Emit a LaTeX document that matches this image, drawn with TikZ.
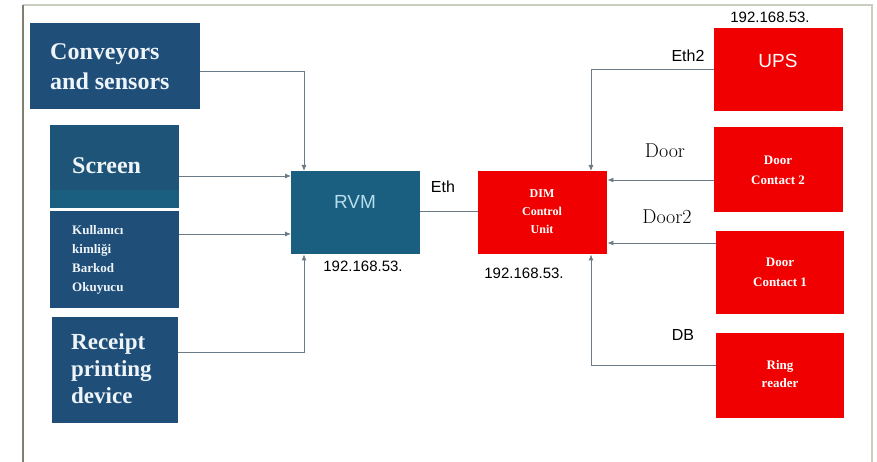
\documentclass[tikz,border=0pt]{standalone}
\usepackage{fontspec}
\setsansfont{Liberation Sans}
\newfontfamily\tnrb{Liberation Serif Bold}
\usetikzlibrary{arrows.meta}
\definecolor{navy}{HTML}{1F4E79}
\definecolor{scr}{HTML}{1D5478}
\definecolor{rvmc}{HTML}{1A5E80}
\definecolor{redc}{HTML}{F00000}
\definecolor{linec}{HTML}{6A7A86}
\definecolor{framec}{HTML}{C8CFC0}
\definecolor{framel}{HTML}{808070}
\definecolor{rvmtext}{HTML}{B8DDEB}
\definecolor{btext}{HTML}{EEF4F8}
\tikzset{
  box/.style={draw=none, inner sep=0pt},
  bluebox/.style={box, fill=navy},
  redbox/.style={box, fill=redc},
  wtext/.style={text=white, align=center},
  conn/.style={draw=linec, line width=0.9pt, -{Latex[length=6pt,width=5pt]}},
  plain/.style={draw=linec, line width=0.9pt},
  lbl/.style={text=black, inner sep=0pt}
}
\begin{document}
\begin{tikzpicture}[x=1pt,y=-1pt]
\useasboundingbox (0,0) rectangle (877,462);
\fill[white] (0,0) rectangle (877,462);
% frame
\draw[framec, line width=1.2pt] (23,5) -- (872,5) -- (872,462);
\draw[framel, line width=1.6pt] (23,5) -- (23,462);

% left boxes
\node[bluebox, minimum width=170pt, minimum height=86pt, anchor=north west] (conv) at (30,23) {};
\node[anchor=west, text=btext, align=left, inner sep=0pt, font=\tnrb\fontsize{24}{30}\selectfont] at (50,67) {Conveyors\\and sensors};

\node[box, fill=scr, minimum width=129pt, minimum height=83pt, anchor=north west] (scr) at (50,125) {};
\fill[rvmc] (50,190) rectangle (179,208);
\node[anchor=west, text=btext, inner sep=0pt, font=\tnrb\fontsize{24}{28}\selectfont] at (72,166) {Screen};

\node[bluebox, minimum width=129pt, minimum height=97pt, anchor=north west] (kul) at (50,211) {};
\node[anchor=west, text=btext, align=left, inner sep=0pt, font=\tnrb\fontsize{13}{19}\selectfont] at (72,260) {Kullanıcı\\kimliği\\Barkod\\Okuyucu};

\node[bluebox, minimum width=126pt, minimum height=106pt, anchor=north west] (rec) at (52,317) {};
\node[anchor=west, text=btext, align=left, inner sep=0pt, font=\tnrb\fontsize{23}{27}\selectfont] at (71,369) {Receipt\\printing\\device};

% RVM
\node[box, fill=rvmc, minimum width=129pt, minimum height=83pt, anchor=north west] (rvm) at (291,171) {};
\node[text=rvmtext, font=\sffamily\fontsize{19}{22}\selectfont] at (355,202) {RVM};

% DIM
\node[redbox, minimum width=129pt, minimum height=83pt, anchor=north west] (dim) at (478,171) {};
\node[wtext, font=\tnrb\fontsize{12}{18}\selectfont] at (542,212) {DIM\\Control\\Unit};

% right boxes
\node[redbox, minimum width=129pt, minimum height=83pt, anchor=north west] (ups) at (714,28) {};
\node[text=white, font=\sffamily\fontsize{19}{22}\selectfont] at (778,61) {UPS};

\node[redbox, minimum width=129pt, minimum height=85pt, anchor=north west] (dc2) at (714,127) {};
\node[wtext, font=\tnrb\fontsize{13}{20}\selectfont] at (778,170) {Door\\Contact 2};

\node[redbox, minimum width=128pt, minimum height=83pt, anchor=north west] (dc1) at (716,231) {};
\node[wtext, font=\tnrb\fontsize{13}{20}\selectfont] at (780,272) {Door\\Contact 1};

\node[redbox, minimum width=128pt, minimum height=85pt, anchor=north west] (ring) at (716,333) {};
\node[wtext, font=\tnrb\fontsize{13}{18}\selectfont] at (780,374) {Ring\\reader};

% labels
\node[lbl, font=\sffamily\fontsize{15}{18}\selectfont] at (770,17) {192.168.53.};
\node[lbl, font=\sffamily\fontsize{15}{18}\selectfont] at (363,266) {192.168.53.};
\node[lbl, font=\sffamily\fontsize{15}{18}\selectfont] at (524,273) {192.168.53.};
\node[lbl, font=\sffamily\fontsize{16}{18}\selectfont] at (688,56) {Eth2};
\node[lbl, font=\sffamily\fontsize{16}{18}\selectfont] at (443,187) {Eth};
\node[lbl, font=\rmfamily\fontsize{20}{22}\selectfont] at (665,151) {Door};
\node[lbl, font=\rmfamily\fontsize{20}{22}\selectfont] at (667,217) {Door2};
\node[lbl, font=\sffamily\fontsize{16}{18}\selectfont] at (683,335) {DB};

% connectors left
\coordinate (c1) at (304,71);
\draw[conn] (conv.east |- c1) -- (c1) -- (rvm.north -| c1);
\draw[conn] (scr.east |- 0,176) -- (rvm.west |- 0,176);
\draw[conn] (kul.east |- 0,234) -- (rvm.west |- 0,234);
\coordinate (c2) at (304,352);
\draw[conn] (rec.east |- c2) -- (c2) -- (rvm.south -| c2);
% RVM-DIM
\draw[plain] (rvm.east |- 0,211) -- (dim.west |- 0,211);
% connectors right
\coordinate (c3) at (591,69);
\draw[conn] (ups.west |- c3) -- (c3) -- (dim.north -| c3);
\draw[conn] (dc2.west |- 0,180) -- (dim.east |- 0,180);
\draw[conn] (dc1.west |- 0,243) -- (dim.east |- 0,243);
\coordinate (c4) at (591,365);
\draw[conn] (ring.west |- c4) -- (c4) -- (dim.south -| c4);
\end{tikzpicture}
\end{document}
